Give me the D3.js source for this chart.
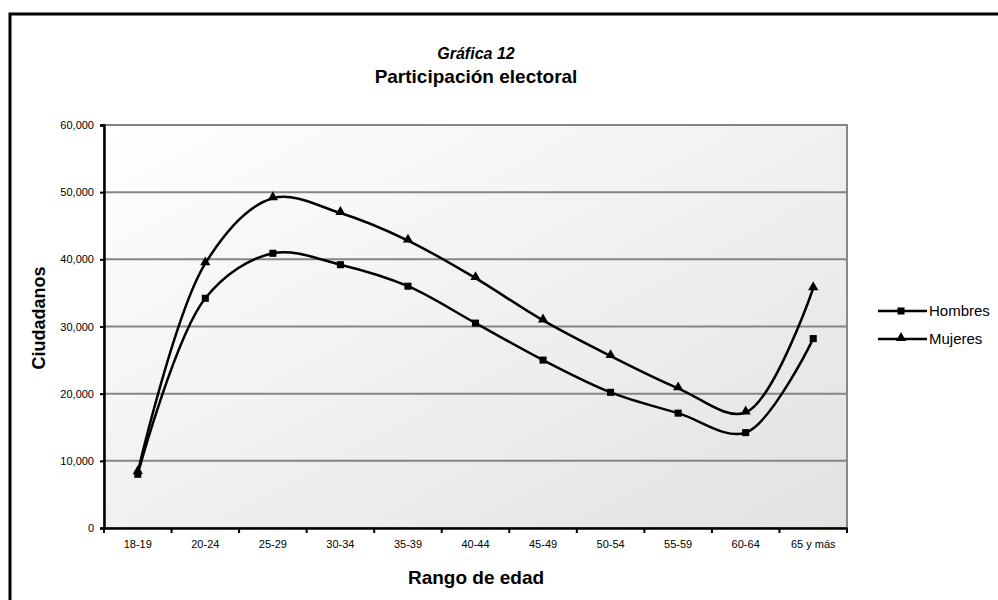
<!DOCTYPE html>
<html>
<head>
<meta charset="utf-8">
<script src="https://cdn.jsdelivr.net/npm/d3@7"></script>
<style>
  body { margin: 0; background: #fff; }
  svg { display: block; font-family: Arial, "Liberation Sans", sans-serif; }
</style>
</head>
<body>
<svg width="998" height="600"></svg>
<script>
var categories = ["18-19", "20-24", "25-29", "30-34", "35-39", "40-44", "45-49", "50-54", "55-59", "60-64", "65 y más"];
var hombres = [8000, 34200, 40900, 39200, 36000, 30500, 25000, 20200, 17100, 14200, 28200];
var mujeres = [8300, 39400, 49100, 46900, 42800, 37200, 30900, 25600, 20800, 17200, 35700];
var yTicks = [0, 10000, 20000, 30000, 40000, 50000, 60000];
var seriesNames = ["Hombres", "Mujeres"];

var svg = d3.select("svg");
// plot area edges ("top" is taken by window.top, so use other names)
var plotLeft = 104, plotRight = 847, plotTop = 125, plotBottom = 528;

var x = d3.scaleBand().domain(categories).range([plotLeft, plotRight]);
var y = d3.scaleLinear().domain([0, 60000]).range([plotBottom, plotTop]);

// outer frame
svg.append("rect")
    .attr("x", 10).attr("y", 14)
    .attr("width", 1000).attr("height", 600)
    .attr("fill", "none")
    .attr("stroke", "#000")
    .attr("stroke-width", 3);

// plot background gradient
var grad = svg.append("defs").append("linearGradient")
    .attr("id", "bg")
    .attr("x1", "0").attr("y1", "0").attr("x2", "1").attr("y2", "1");
grad.append("stop").attr("offset", "0%").attr("stop-color", "#ffffff");
grad.append("stop").attr("offset", "100%").attr("stop-color", "#e2e2e2");

svg.append("rect")
    .attr("x", plotLeft).attr("y", plotTop)
    .attr("width", plotRight - plotLeft).attr("height", plotBottom - plotTop)
    .attr("fill", "url(#bg)")
    .attr("stroke", "#888")
    .attr("stroke-width", 2);

// gridlines
svg.append("g")
    .selectAll("line").data(yTicks.slice(1)).enter()
    .append("line")
    .attr("x1", plotLeft).attr("x2", plotRight)
    .attr("y1", function(d) { return y(d); })
    .attr("y2", function(d) { return y(d); })
    .attr("stroke", "#858585")
    .attr("stroke-width", 2);

// axes
var yAxis = svg.append("g")
    .attr("transform", "translate(" + plotLeft + ",0)")
    .call(d3.axisLeft(y).tickValues(yTicks).tickSize(4).tickPadding(6)
        .tickFormat(d3.format(",")));
var xAxis = svg.append("g")
    .attr("transform", "translate(0," + plotBottom + ")")
    .call(d3.axisBottom(x).tickSize(0).tickPadding(12));

yAxis.select(".domain").attr("stroke", "#000").attr("stroke-width", 2.5);
xAxis.select(".domain").attr("stroke", "#000").attr("stroke-width", 2.5);
yAxis.selectAll(".tick line").attr("stroke", "#000").attr("stroke-width", 2);
yAxis.selectAll("text").attr("font-size", "11px").attr("fill", "#000");
xAxis.selectAll("text").attr("font-size", "11px").attr("fill", "#000");

// category boundary ticks on x axis
var bounds = categories.map(function(c) { return x(c); }).concat([plotRight]);
svg.append("g")
    .selectAll("line").data(bounds).enter()
    .append("line")
    .attr("x1", function(d) { return d; }).attr("x2", function(d) { return d; })
    .attr("y1", plotBottom).attr("y2", plotBottom + 5)
    .attr("stroke", "#000").attr("stroke-width", 2);

// lines
var line = d3.line()
    .x(function(d, i) { return x(categories[i]) + x.bandwidth() / 2; })
    .y(function(d) { return y(d); })
    .curve(d3.curveCatmullRom.alpha(0.5));

[hombres, mujeres].forEach(function(series) {
    svg.append("path")
        .attr("d", line(series))
        .attr("fill", "none")
        .attr("stroke", "#000")
        .attr("stroke-width", 2.5);
});

var square = d3.symbol().type(d3.symbolSquare).size(50);
var triangle = d3.symbol().type(d3.symbolTriangle).size(45);

svg.append("g").selectAll("path").data(hombres).enter()
    .append("path")
    .attr("d", square)
    .attr("transform", function(d, i) {
        return "translate(" + (x(categories[i]) + x.bandwidth() / 2) + "," + y(d) + ")";
    })
    .attr("fill", "#000");

svg.append("g").selectAll("path").data(mujeres).enter()
    .append("path")
    .attr("d", triangle)
    .attr("transform", function(d, i) {
        return "translate(" + (x(categories[i]) + x.bandwidth() / 2) + "," + (y(d) - 1) + ")";
    })
    .attr("fill", "#000");

// legend
var legend = svg.append("g");
seriesNames.forEach(function(name, i) {
    var ly = 311 + i * 28;
    legend.append("line")
        .attr("x1", 878).attr("x2", 927)
        .attr("y1", ly).attr("y2", ly)
        .attr("stroke", "#000").attr("stroke-width", 2.5);
    legend.append("path")
        .attr("d", i === 0 ? square : triangle)
        .attr("transform", "translate(901," + (i === 0 ? ly : ly - 1) + ")")
        .attr("fill", "#000");
    legend.append("text")
        .attr("x", 929).attr("y", ly + 5)
        .text(name)
        .attr("font-size", "15px");
});

// titles
svg.append("text")
    .attr("x", 476).attr("y", 59)
    .attr("text-anchor", "middle")
    .attr("font-size", "16px")
    .attr("font-weight", "bold")
    .attr("font-style", "italic")
    .text("Gráfica 12");
svg.append("text")
    .attr("x", 476).attr("y", 83)
    .attr("text-anchor", "middle")
    .attr("font-size", "19px")
    .attr("font-weight", "bold")
    .text("Participación electoral");
svg.append("text")
    .attr("x", 476).attr("y", 584)
    .attr("text-anchor", "middle")
    .attr("font-size", "19px")
    .attr("font-weight", "bold")
    .text("Rango de edad");
svg.append("text")
    .attr("transform", "translate(45,318) rotate(-90)")
    .attr("text-anchor", "middle")
    .attr("font-size", "18px")
    .attr("font-weight", "bold")
    .text("Ciudadanos");
</script>
</body>
</html>
